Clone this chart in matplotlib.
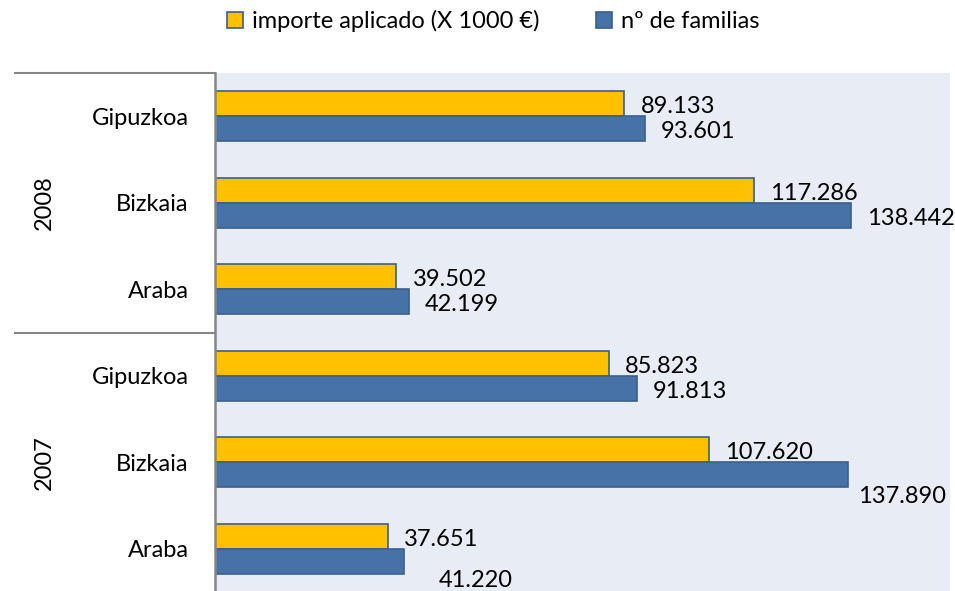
import matplotlib
matplotlib.use("Agg")
import matplotlib.pyplot as plt
from matplotlib.patches import Patch

plt.rcParams["font.family"] = ["Lato", "DejaVu Sans"]

# datos (top to bottom)
years = ["2008", "2007"]
regions = ["Gipuzkoa", "Bizkaia", "Araba"]
importe_2008 = [89.133, 117.286, 39.502]
importe_2007 = [85.823, 107.620, 37.651]
familias_2008 = [93.601, 138.442, 42.199]
familias_2007 = [91.813, 137.890, 41.220]
series_names = ["importe aplicado (X 1000 €)", "nº de familias"]

YELLOW = "#FFC000"
BLUE = "#4672A8"
EDGE = "#3A5F8C"
BG = "#E8ECF4"
GRID = "#868686"
FS = 17

importe = importe_2008 + importe_2007
familias = familias_2008 + familias_2007
cat_labels = regions + regions

fig = plt.figure(figsize=(9.55, 5.91), dpi=100)
ax = fig.add_axes([215 / 955, -0.002, 735 / 955, 0.8765 + 0.002])
ax.set_facecolor(BG)

pos = list(range(len(cat_labels)))
h = 0.289
b1 = ax.barh([p - h / 2 for p in pos], importe, height=h, color=YELLOW,
             edgecolor=EDGE, linewidth=1.2)
b2 = ax.barh([p + h / 2 for p in pos], familias, height=h, color=BLUE,
             edgecolor=EDGE, linewidth=1.2)

ax.set_xlim(0, 160)
ax.set_ylim(len(cat_labels) - 0.5, -0.5)
ax.set_xticks([])
ax.set_yticks(pos)
ax.set_yticklabels(cat_labels, fontsize=FS)
ax.tick_params(axis="y", length=0, pad=19)
for s in ["top", "right", "bottom"]:
    ax.spines[s].set_visible(False)
ax.spines["left"].set_color(GRID)
ax.spines["left"].set_linewidth(1.8)

# label offsets in pixels (excel nudges a couple to avoid overlap)
off_importe = [(16, -3)] * 6
off_familias = [(16, -3)] * 6
off_familias[4] = (10, -22)
off_familias[5] = (34, -19)

for bars, vals, offs in [(b1, importe, off_importe), (b2, familias, off_familias)]:
    for r, v, o in zip(bars, vals, offs):
        yc = r.get_y() + r.get_height() / 2
        ax.annotate(f"{v:.3f}", xy=(v, yc), xytext=o, textcoords="offset pixels",
                    ha="left", va="center", fontsize=FS, color="black")

# multi-level category axis
x0 = (15 - 215) / 735
for yb in [-0.5, 2.5]:
    ax.plot([x0, 0], [yb, yb], color=GRID, lw=1.5, clip_on=False,
            transform=ax.get_yaxis_transform())
for i, yr in enumerate(years):
    ax.text((44 - 215) / 735, i * 3 + 1, yr, transform=ax.get_yaxis_transform(),
            rotation=90, ha="center", va="center", fontsize=FS)

handles = [Patch(facecolor=YELLOW, edgecolor=EDGE, lw=1.2),
           Patch(facecolor=BLUE, edgecolor=EDGE, lw=1.2)]
fig.legend(handles, series_names, loc="center", bbox_to_anchor=(493 / 955, 1 - 21 / 591),
           ncol=2, frameon=False, fontsize=FS, handlelength=0.7, handleheight=0.7,
           handletextpad=0.35, columnspacing=2.4)

fig.savefig("out.png", dpi=100, facecolor="white")
